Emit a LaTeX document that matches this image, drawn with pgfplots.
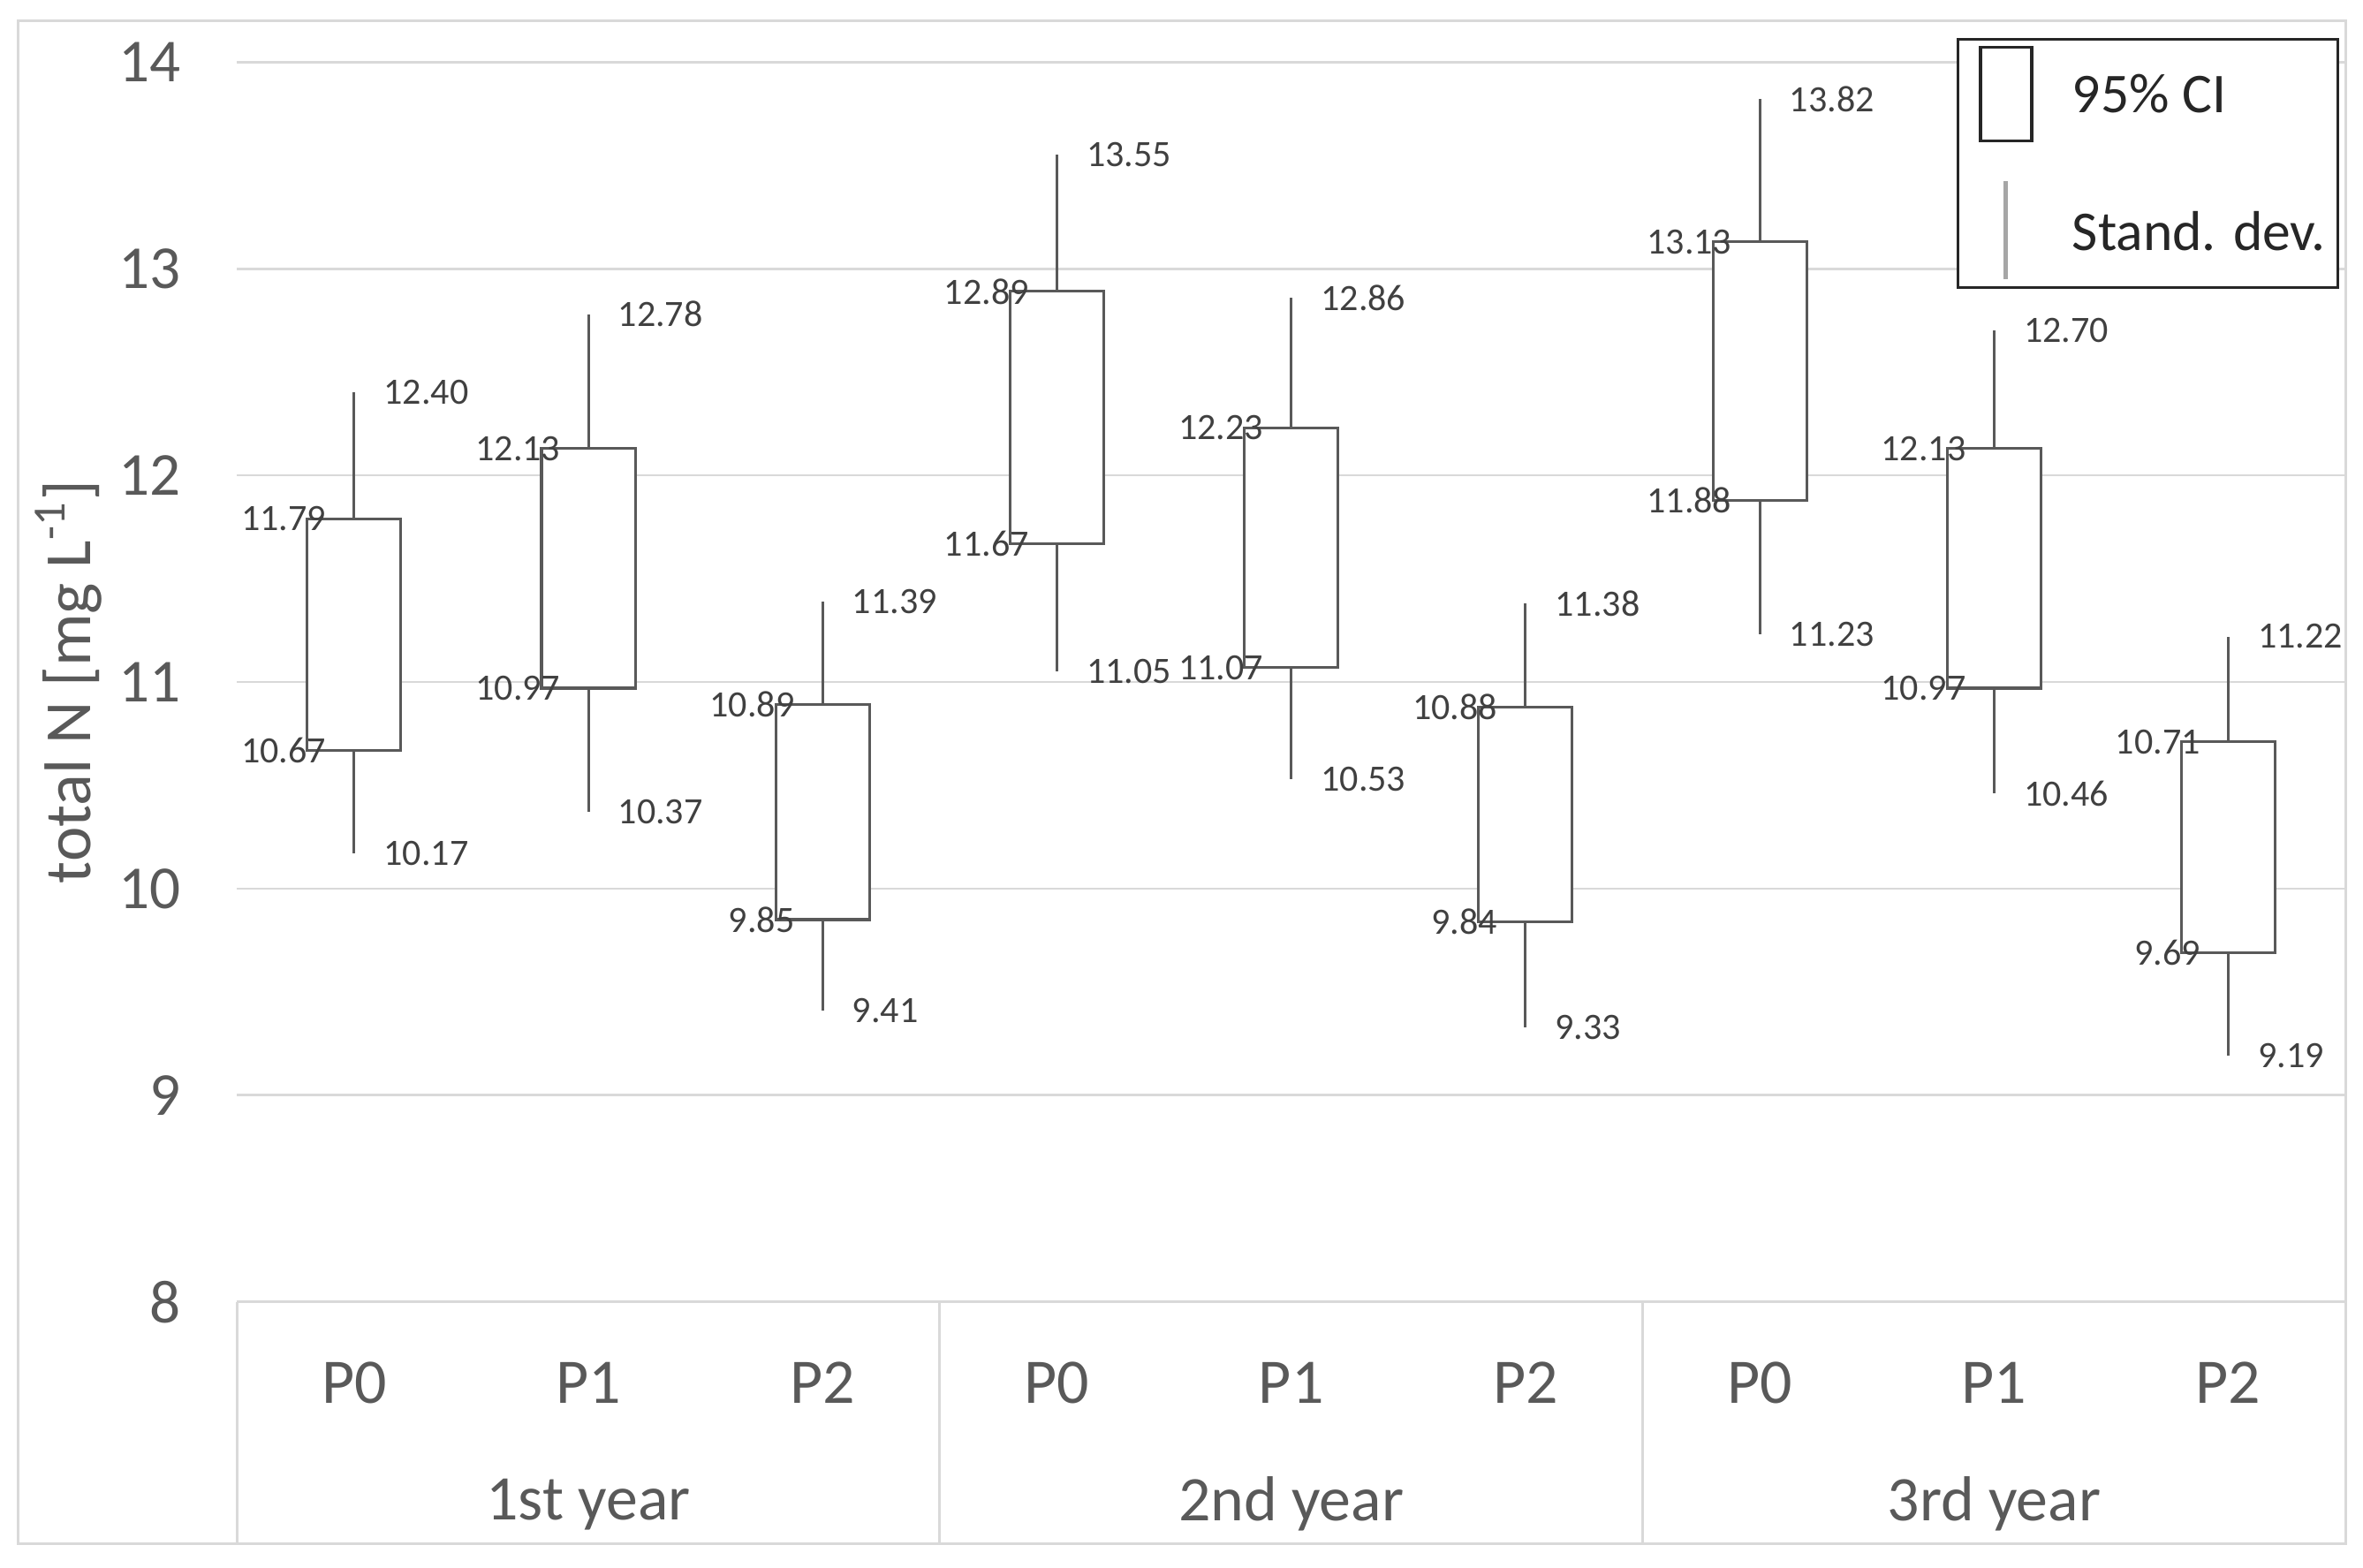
\documentclass[border=0pt]{standalone}
\usepackage{fontspec}
\setmainfont{Carlito}
\usepackage{pgfplots}
\pgfplotsset{compat=1.18}
\usepackage{pgfplotstable}

\definecolor{gridgray}{HTML}{D9D9D9}
\definecolor{boxgray}{HTML}{595959}
\definecolor{textgray}{HTML}{595959}
\definecolor{labelgray}{HTML}{404040}
\definecolor{sdgray}{HTML}{A6A6A6}
\definecolor{legborder}{HTML}{262626}

% x = position, lw/uw = mean -/+ SD, lq/uq = 95% CI
\pgfplotstableread{
x lw lq uq uw
0 10.17 10.67 11.79 12.40
1 10.37 10.97 12.13 12.78
2 9.41 9.85 10.89 11.39
3 11.05 11.67 12.89 13.55
4 10.53 11.07 12.23 12.86
5 9.33 9.84 10.88 11.38
6 11.23 11.88 13.13 13.82
7 10.46 10.97 12.13 12.70
8 9.19 9.69 10.71 11.22
}\boxdata

\pgfplotsset{
  cibox/.style={draw=boxgray, line width=0.55pt, fill=white, forget plot},
  sdbar/.style={draw=none, forget plot,
    error bars/y explicit, error bars/error mark=none,
    error bars/error bar style={draw=boxgray, line width=0.55pt}},
  vallabel/.style={draw=none, forget plot, point meta=y,
    nodes near coords={\pgfmathprintnumber[fixed,fixed zerofill,precision=2]{\pgfplotspointmeta}},
    every node near coord/.append style={inner sep=0pt, text=labelgray,
      font=\fontsize{7.6}{9}\selectfont}},
}

\begin{document}
\begin{tikzpicture}
\begin{axis}[
  name=ax,
  scale only axis, width=431.6pt, height=253.8pt,
  xmin=-0.5, xmax=8.5, ymin=8, ymax=14,
  ytick={8,...,14},
  xtick={0,...,8},
  xticklabels={P0,P1,P2,P0,P1,P2,P0,P1,P2},
  major tick length=0pt,
  axis line style={draw=none},
  ymajorgrids, grid style={draw=gridgray, line width=0.5pt},
  /pgf/number format/assume math mode=true,
  xticklabel style={anchor=center, yshift=-16.6pt, text=textgray,
    font=\fontsize{13}{15}\selectfont},
  yticklabel style={xshift=-8pt, text=textgray,
    font=\fontsize{12.5}{14}\selectfont},
  ylabel={total N [mg L\textsuperscript{-1}]},
  ylabel style={at={(axis description cs:-0.08,0.5)}, anchor=center,
    text=textgray, font=\fontsize{13.5}{15}\selectfont},
  clip=false,
  legend cell align=left,
  legend style={at={(rel axis cs:1,1)}, anchor=north east,
    xshift=-1.3pt, yshift=4.9pt, draw=legborder, line width=0.6pt,
    fill=white, text=legborder, font=\fontsize{11.5}{13}\selectfont,
    inner xsep=2.5pt, inner ysep=1.3pt, row sep=7.5pt, column sep=8pt,
    nodes={inner xsep=0pt}},
]
% legend images first, so that the two entries belong to them
\addlegendimage{legend image code/.code={
  \path (0pt,0pt);
  \draw[legborder, line width=0.6pt, fill=white] (1.8pt,-9.1pt) rectangle (12.3pt,10.1pt);}}
\addlegendentry{95\% CI}
\addlegendimage{legend image code/.code={
  \path (0pt,0pt);
  \draw[sdgray, line width=0.9pt] (7.05pt,-9.1pt) -- (7.05pt,10.9pt);}}
\addlegendentry{Stand. dev.}

% whiskers: standard deviation, from the box edges outwards
\addplot[sdbar, error bars/y dir=plus] table[x=x, y=uq, y error expr=\thisrow{uw}-\thisrow{uq}] {\boxdata};
\addplot[sdbar, error bars/y dir=minus] table[x=x, y=lq, y error expr=\thisrow{lq}-\thisrow{lw}] {\boxdata};

% boxes: 95% confidence interval, 0.4 wide
\addplot[cibox] coordinates {(-0.2,10.67) (0.2,10.67) (0.2,11.79) (-0.2,11.79)} -- cycle;
\addplot[cibox] coordinates {(0.8,10.97) (1.2,10.97) (1.2,12.13) (0.8,12.13)} -- cycle;
\addplot[cibox] coordinates {(1.8,9.85) (2.2,9.85) (2.2,10.89) (1.8,10.89)} -- cycle;
\addplot[cibox] coordinates {(2.8,11.67) (3.2,11.67) (3.2,12.89) (2.8,12.89)} -- cycle;
\addplot[cibox] coordinates {(3.8,11.07) (4.2,11.07) (4.2,12.23) (3.8,12.23)} -- cycle;
\addplot[cibox] coordinates {(4.8,9.84) (5.2,9.84) (5.2,10.88) (4.8,10.88)} -- cycle;
\addplot[cibox] coordinates {(5.8,11.88) (6.2,11.88) (6.2,13.13) (5.8,13.13)} -- cycle;
\addplot[cibox] coordinates {(6.8,10.97) (7.2,10.97) (7.2,12.13) (6.8,12.13)} -- cycle;
\addplot[cibox] coordinates {(7.8,9.69) (8.2,9.69) (8.2,10.71) (7.8,10.71)} -- cycle;

% value labels
\addplot[vallabel, every node near coord/.append style={anchor=east, xshift=-5.55pt}] table[x=x, y=uq] {\boxdata};
\addplot[vallabel, every node near coord/.append style={anchor=east, xshift=-5.55pt}] table[x=x, y=lq] {\boxdata};
\addplot[vallabel, every node near coord/.append style={anchor=west, xshift=5.9pt}] table[x=x, y=uw] {\boxdata};
\addplot[vallabel, every node near coord/.append style={anchor=west, xshift=5.9pt}] table[x=x, y=lw] {\boxdata};

% category table below the plot
\draw[gridgray, line width=0.5pt] (axis cs:-0.5,8) -- ++(0pt,-49.5pt);
\draw[gridgray, line width=0.5pt] (axis cs:2.5,8) -- ++(0pt,-49.5pt);
\draw[gridgray, line width=0.5pt] (axis cs:5.5,8) -- ++(0pt,-49.5pt);
\draw[gridgray, line width=0.5pt] (axis cs:8.5,8) -- ++(0pt,-49.5pt);
\node[font=\fontsize{13}{15}\selectfont, text=textgray, yshift=-41.4pt] at (axis cs:1,8) {1st year};
\node[font=\fontsize{13}{15}\selectfont, text=textgray, yshift=-41.4pt] at (axis cs:4,8) {2nd year};
\node[font=\fontsize{13}{15}\selectfont, text=textgray, yshift=-41.4pt] at (axis cs:7,8) {3rd year};
\end{axis}
\draw[gridgray, line width=0.5pt] ([xshift=-44.8pt, yshift=8.5pt]ax.north west) rectangle ([yshift=-49.5pt]ax.south east);
\pgfresetboundingbox
\path ([xshift=-48.5pt, yshift=12.7pt]ax.north west) rectangle ([xshift=3.6pt, yshift=-54.4pt]ax.south east);
\end{tikzpicture}
\end{document}
